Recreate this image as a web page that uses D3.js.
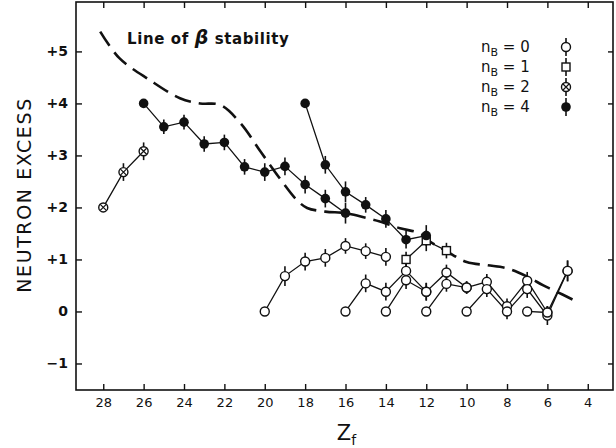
<!DOCTYPE html>
<html>
<head>
<meta charset="utf-8">
<script src="https://cdn.jsdelivr.net/npm/d3@7"></script>
<style>
  body { margin: 0; background: #fff; }
  text { font-family: "DejaVu Sans", sans-serif; fill: #111; }
</style>
</head>
<body>
<div id="chart"></div>
<script>
// Tick values
const xTicks = [28, 26, 24, 22, 20, 18, 16, 14, 12, 10, 8, 6, 4];
const yTicks = [-1, 0, 1, 2, 3, 4, 5];

// [Z, neutron excess, error half-length]
const nB2 = [[28, 2.0, 0], [27, 2.68, 0.17], [26, 3.08, 0.17]];
const nB4a = [[26, 4.0, 0], [25, 3.55, 0.14], [24, 3.64, 0.14], [23, 3.22, 0.15], [22, 3.25, 0.15],
  [21, 2.78, 0.15], [20, 2.68, 0.17], [19, 2.79, 0.17], [18, 2.44, 0.17], [17, 2.17, 0.17], [16, 1.89, 0.2]];
const nB4b = [[18, 4.0, 0], [17, 2.82, 0.17], [16, 2.3, 0.2], [15, 2.05, 0.15], [14, 1.78, 0.17],
  [13, 1.38, 0.17], [12, 1.46, 0.2]];
const nB1 = [[13, 1.0, 0.15], [12, 1.36, 0.2], [11, 1.17, 0.15]];
const nB0a = [[20, 0, 0], [19, 0.68, 0.19], [18, 0.96, 0.17], [17, 1.03, 0.17], [16, 1.26, 0.15],
  [15, 1.16, 0.15], [14, 1.05, 0.17]];
const nB0b = [[16, 0, 0], [15, 0.54, 0.17], [14, 0.38, 0.17], [13, 0.78, 0.15], [12, 0.38, 0.17],
  [11, 0.75, 0.15], [10, 0.46, 0.12], [9, 0.57, 0.15], [8, 0.1, 0.15], [7, 0.59, 0.17],
  [6, -0.02, 0.12], [5, 0.78, 0.2]];
const nB0c = [[14, 0, 0], [13, 0.6, 0.17], [12, 0.38, 0.17]];
const nB0d = [[12, 0, 0], [11, 0.53, 0.15], [10, 0.46, 0.12]];
const nB0e = [[10, 0, 0], [9, 0.43, 0.15], [8, 0.0, 0.15], [7, 0.43, 0.17], [6, -0.08, 0.18], [5, 0.78, 0.2]];
const nB0f = [[7, 0, 0], [6, -0.02, 0.12]];

// Line of beta stability (dashed)
const betaLine = [[28.15, 5.38], [27.2, 4.87], [25.7, 4.45], [24.2, 4.1], [23.2, 4.0], [22.2, 3.97],
  [21.2, 3.62], [20.2, 3.07], [19.2, 2.53], [18.4, 2.14], [17.9, 1.99], [17, 1.92], [16, 1.89],
  [15, 1.8], [14.3, 1.73], [13.3, 1.6], [12.3, 1.5], [11.8, 1.34], [11, 1.16], [10, 0.95],
  [9, 0.89], [8, 0.83], [7, 0.67], [6.2, 0.5], [5.7, 0.41], [4.7, 0.22]];

const legendItems = [
  { label: "0", type: "open" },
  { label: "1", type: "square" },
  { label: "2", type: "cross" },
  { label: "4", type: "solid" }
];

const margin = { top: 2, right: 3, bottom: 58, left: 76 },
  width = 616 - margin.left - margin.right,
  height = 448 - margin.top - margin.bottom;

const svg = d3.select("#chart")
  .append("svg")
  .attr("width", 616)
  .attr("height", 448)
  .append("g")
  .attr("transform", `translate(${margin.left},${margin.top})`);

const x = d3.scaleLinear().domain([29.35, 2.75]).range([0, width]);
const y = d3.scaleLinear().domain([-1.51, 5.95]).range([height, 0]);

// frame
svg.append("rect")
  .attr("width", width)
  .attr("height", height)
  .attr("fill", "none")
  .attr("stroke", "#111")
  .attr("stroke-width", 1.6);

const fmtY = d => d > 0 ? "+" + d : (d < 0 ? "\u2212" + Math.abs(d) : "0");

const xAxis = svg.append("g")
  .attr("transform", `translate(0,${height})`)
  .call(d3.axisBottom(x).tickValues(xTicks).tickSizeInner(-6).tickSizeOuter(0).tickPadding(8));
const yAxis = svg.append("g")
  .call(d3.axisLeft(y).tickValues(yTicks).tickFormat(fmtY).tickSizeInner(-6).tickSizeOuter(0).tickPadding(8));
svg.append("g")
  .call(d3.axisTop(x).tickValues(xTicks).tickFormat("").tickSizeInner(-6).tickSizeOuter(0));
svg.append("g")
  .attr("transform", `translate(${width},0)`)
  .call(d3.axisRight(y).tickValues(yTicks).tickFormat("").tickSizeInner(-5).tickSizeOuter(0));

svg.selectAll(".domain").remove();
svg.selectAll(".tick line").attr("stroke", "#111").attr("stroke-width", 1.4);
xAxis.selectAll("text").style("font-size", "13px").attr("fill", "#111");
yAxis.selectAll("text").style("font-size", "14px").style("font-weight", "bold").attr("fill", "#111");

// axis titles
svg.append("text")
  .attr("x", width / 2 + 2)
  .attr("y", height + 50)
  .attr("text-anchor", "middle")
  .style("font-size", "21px")
  .text("Z")
  .append("tspan")
  .attr("dy", "5")
  .style("font-size", "14px")
  .text("f");

svg.append("text")
  .attr("transform", "rotate(-90)")
  .attr("x", -193)
  .attr("y", -45)
  .attr("text-anchor", "middle")
  .style("font-size", "19px")
  .style("letter-spacing", "1.6px")
  .text("NEUTRON  EXCESS");

// beta stability line
svg.append("path")
  .datum(betaLine)
  .attr("fill", "none")
  .attr("stroke", "#111")
  .attr("stroke-width", 2.6)
  .attr("stroke-dasharray", "17,8")
  .attr("d", d3.line().x(d => x(d[0])).y(d => y(d[1])).curve(d3.curveCatmullRom));

const title = svg.append("text")
  .attr("x", 51)
  .attr("y", 42)
  .style("font-size", "15px")
  .style("font-weight", "bold")
  .style("letter-spacing", "0.6px");
title.append("tspan").text("Line of ");
title.append("tspan").style("font-style", "italic").style("font-size", "19px").text("\u03B2");
title.append("tspan").text(" stability");

const allSeries = [
  { data: nB0a, type: "open" }, { data: nB0b, type: "open" }, { data: nB0c, type: "open" },
  { data: nB0d, type: "open" }, { data: nB0e, type: "open" }, { data: nB0f, type: "open" },
  { data: nB1, type: "square" }, { data: nB2, type: "cross" },
  { data: nB4a, type: "solid" }, { data: nB4b, type: "solid" }
];

const line = d3.line().x(d => x(d[0])).y(d => y(d[1]));

// connecting lines
allSeries.forEach(s => {
  svg.append("path")
    .datum(s.data)
    .attr("fill", "none")
    .attr("stroke", "#111")
    .attr("stroke-width", 1.3)
    .attr("d", line);
});

// error bars
allSeries.forEach(s => {
  svg.selectAll(null)
    .data(s.data.filter(d => d[2] > 0))
    .enter()
    .append("line")
    .attr("x1", d => x(d[0]))
    .attr("x2", d => x(d[0]))
    .attr("y1", d => y(d[1] - d[2]))
    .attr("y2", d => y(d[1] + d[2]))
    .attr("stroke", "#111")
    .attr("stroke-width", 1.6);
});

function drawMarker(g, type, cx, cy) {
  if (type === "square") {
    g.append("rect")
      .attr("x", cx - 4).attr("y", cy - 4)
      .attr("width", 8).attr("height", 8)
      .attr("fill", "#fff").attr("stroke", "#111").attr("stroke-width", 1.4);
  } else if (type === "solid") {
    g.append("circle")
      .attr("cx", cx).attr("cy", cy).attr("r", 4.8)
      .attr("fill", "#111");
  } else {
    g.append("circle")
      .attr("cx", cx).attr("cy", cy).attr("r", 4.5)
      .attr("fill", "#fff").attr("stroke", "#111").attr("stroke-width", 1.4);
    if (type === "cross") {
      const r = 3;
      g.append("path")
        .attr("d", `M${cx - r},${cy - r}L${cx + r},${cy + r}M${cx - r},${cy + r}L${cx + r},${cy - r}`)
        .attr("stroke", "#111").attr("stroke-width", 1.2);
    }
  }
}

// markers
allSeries.forEach(s => {
  s.data.forEach(d => drawMarker(svg, s.type, x(d[0]), y(d[1])));
});

// legend
const legend = svg.append("g").attr("transform", "translate(405,0)");
legendItems.forEach((item, i) => {
  const ly = 45 + i * 20;
  const t = legend.append("text")
    .attr("x", 0)
    .attr("y", ly + 5)
    .style("font-size", "15px");
  t.append("tspan").text("n");
  t.append("tspan").attr("dy", 4).style("font-size", "11px").text("B");
  t.append("tspan").attr("dy", -4).text(" = " + item.label);
  legend.append("line")
    .attr("x1", 85).attr("x2", 85)
    .attr("y1", ly - 9).attr("y2", ly + 9)
    .attr("stroke", "#111").attr("stroke-width", 1.6);
  drawMarker(legend, item.type, 85, ly);
});
</script>
</body>
</html>
